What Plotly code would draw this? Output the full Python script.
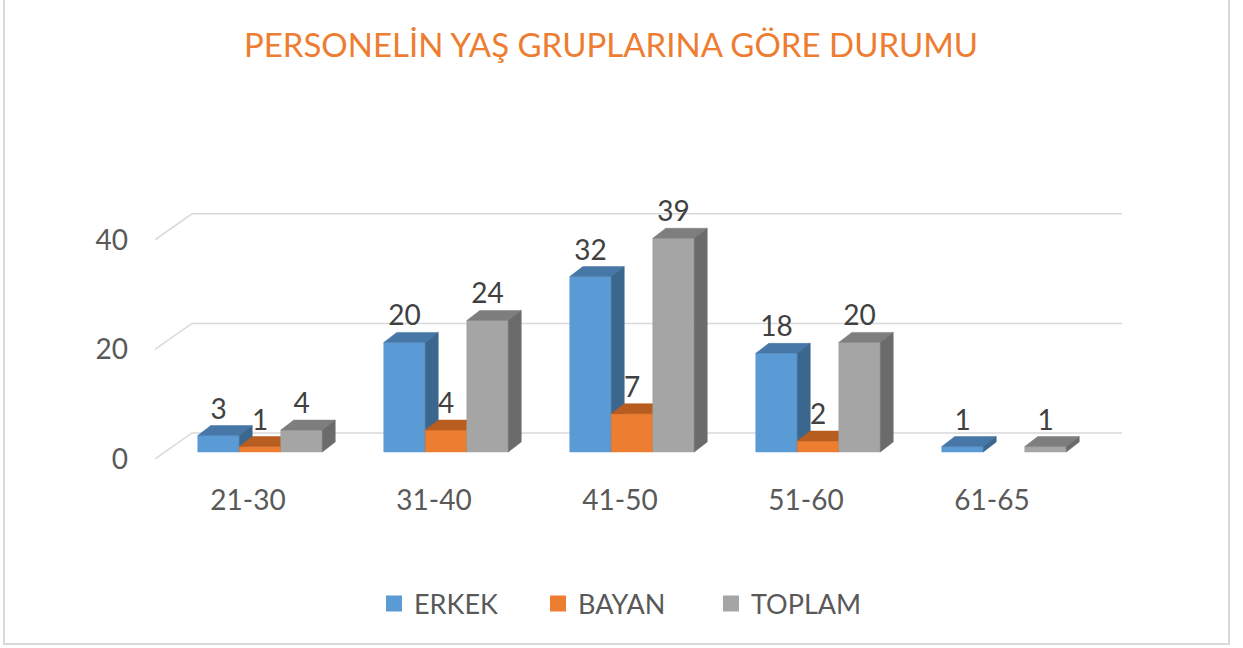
import plotly.graph_objects as go

# ---- data ----
categories = ["21-30", "31-40", "41-50", "51-60", "61-65"]
erkek = [3, 20, 32, 18, 1]
bayan = [1, 4, 7, 2, 0]
toplam = [4, 24, 39, 20, 1]
series_names = ["ERKEK", "BAYAN", "TOPLAM"]
y_ticks = [0, 20, 40]

# ---- style ----
W, H = 1243, 648
L_PX, R_PX, B_PX, T_PX = 155, 1122, 459, 174
PX_X = 186.0                     # px per category unit
PX_Y = (B_PX - T_PX) / 52.0      # px per value unit
FLOOR_DX, FLOOR_DY = 37 / PX_X, 26 / PX_Y
BAR_FX, BAR_FY = 12 / PX_X, 7 / PX_Y
BAR_DX, BAR_DY = 13 / PX_X, 10 / PX_Y
BW = 41.5 / PX_X
FONT = "Lato"
LEGEND_SQ_CENTER_PX = [395, 559, 732]

front_cols = ["#5B9BD5", "#ED7D31", "#A5A5A5"]
top_cols = ["#4677A7", "#B75D20", "#7E7E7E"]
side_cols = ["#3B668D", "#AE5A21", "#6B6B6B"]

fig = go.Figure()

# gridlines (back wall + floor diagonals)
gx, gy = [], []
for t in y_ticks:
    gx += [-0.5, -0.5 + FLOOR_DX, len(categories) - 0.5 + FLOOR_DX, None]
    gy += [t, t + FLOOR_DY, t + FLOOR_DY, None]
fig.add_trace(go.Scatter(x=gx, y=gy, mode="lines", line=dict(color="#D9D9D9", width=1.5),
                         hoverinfo="skip", showlegend=False))

all_series = [erkek, bayan, toplam]
lab_x, lab_y, lab_t = [], [], []
for k, vals in enumerate(all_series):
    fx, fy, tx, ty, sx, sy = [], [], [], [], [], []
    for i, v in enumerate(vals):
        if not v:
            continue
        x0 = i - 1.5 * BW + k * BW + BAR_FX
        x1 = x0 + BW
        b = BAR_FY
        fx += [x0, x1, x1, x0, x0, None]
        fy += [b, b, b + v, b + v, b, None]
        tx += [x0, x1, x1 + BAR_DX, x0 + BAR_DX, x0, None]
        ty += [b + v, b + v, b + v + BAR_DY, b + v + BAR_DY, b + v, None]
        sx += [x1, x1 + BAR_DX, x1 + BAR_DX, x1, x1, None]
        sy += [b, b + BAR_DY, b + v + BAR_DY, b + v, b, None]
        lab_x.append((x0 + x1) / 2)
        lab_y.append(b + v + BAR_DY)
        lab_t.append(str(v))
    for xs, ys, c in [(fx, fy, front_cols[k]), (tx, ty, top_cols[k]), (sx, sy, side_cols[k])]:
        fig.add_trace(go.Scatter(x=xs, y=ys, mode="lines", fill="toself", fillcolor=c,
                                 line=dict(color=c, width=0.5), hoverinfo="skip", showlegend=False))

fig.add_trace(go.Scatter(x=lab_x, y=lab_y, text=lab_t, mode="text", textposition="top center",
                         textfont=dict(family=FONT, size=28, color="#404040"),
                         hoverinfo="skip", showlegend=False, cliponaxis=False))


def px_to_paper_x(px):
    return (px - L_PX) / (R_PX - L_PX)


def px_to_paper_y(py):
    return (B_PX - py) / (B_PX - T_PX)


# legend entries, one legend each so they can be placed individually
legend_layout = {}
for k, name in enumerate(series_names):
    lname = "legend" if k == 0 else f"legend{k + 1}"
    fig.add_trace(go.Scatter(x=[None], y=[None], mode="markers", name=name, legend=lname,
                             marker=dict(symbol="square", size=18, color=front_cols[k])))
    legend_layout[lname] = dict(
        orientation="h", x=px_to_paper_x(LEGEND_SQ_CENTER_PX[k] - 21), xanchor="left",
        y=px_to_paper_y(604), yanchor="middle", bgcolor="rgba(0,0,0,0)",
        font=dict(family=FONT, size=27, color="#595959"),
        itemclick=False, itemdoubleclick=False)

# chart-area border (left, bottom, right visible)
bl, br = px_to_paper_x(4), px_to_paper_x(1229)
bb, bt = px_to_paper_y(644), px_to_paper_y(-5)
fig.add_shape(type="path", xref="paper", yref="paper", layer="below",
              path=f"M{bl},{bt} L{bl},{bb} L{br},{bb} L{br},{bt}",
              line=dict(color="#D9D9D9", width=2))

fig.update_layout(
    width=W, height=H,
    margin=dict(l=L_PX, r=W - R_PX, t=T_PX, b=H - B_PX, pad=0, autoexpand=False),
    paper_bgcolor="white", plot_bgcolor="white",
    title=dict(text="PERSONELİN YAŞ GRUPLARINA GÖRE DURUMU", x=611 / W, xanchor="center",
               y=1 - 45 / H, yanchor="middle",
               font=dict(family=FONT, size=33, color="#ED7D31")),
    xaxis=dict(range=[-0.5, len(categories) - 0.5 + FLOOR_DX], tickvals=list(range(len(categories))),
               ticktext=categories, showgrid=False, zeroline=False, showline=False,
               ticks="", ticklabelstandoff=22,
               tickfont=dict(family=FONT, size=28, color="#595959"), fixedrange=True),
    yaxis=dict(range=[0, 52], tickvals=y_ticks, showgrid=False, zeroline=False, showline=False,
               ticks="", ticklabelstandoff=26,
               tickfont=dict(family=FONT, size=28, color="#595959"), fixedrange=True),
    showlegend=True,
    hovermode=False,
    **legend_layout,
)

fig.write_html("out.html", config={"displayModeBar": False},
               post_script="document.body.style.margin='0';")
